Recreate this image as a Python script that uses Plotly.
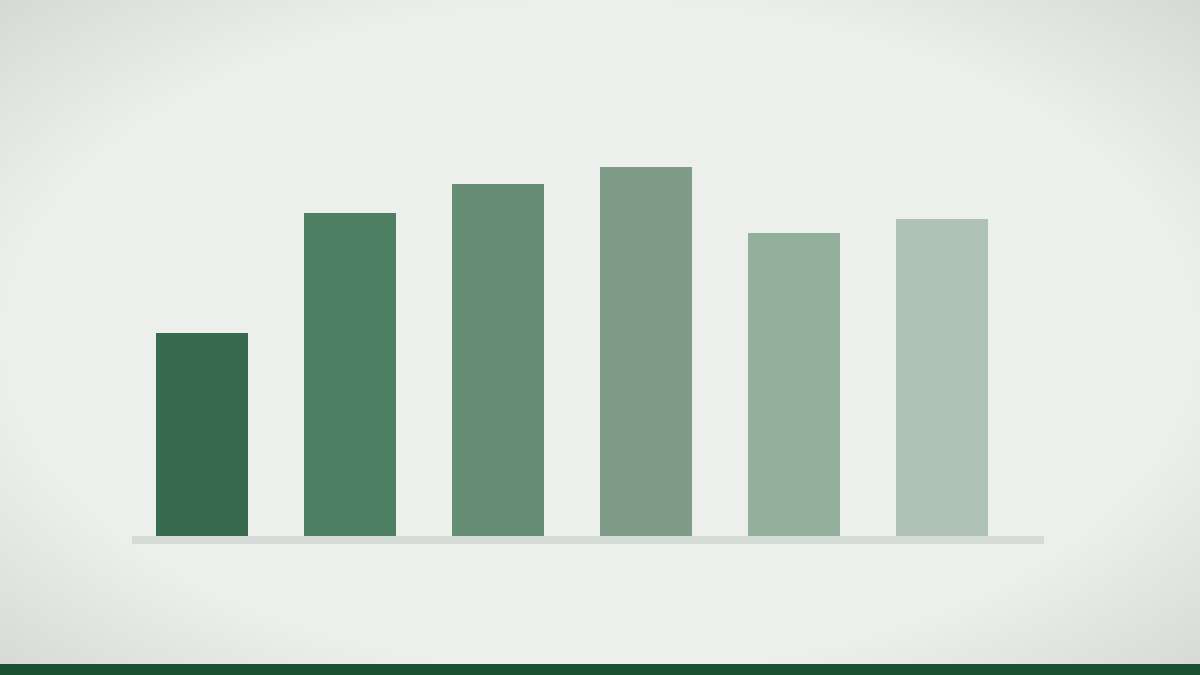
import base64
import plotly.graph_objects as go

# six unlabeled bars (tallest = 100)
categories = ["A", "B", "C", "D", "E", "F"]
values = [55, 87.5, 95.4, 100, 82.1, 85.9]
bar_colors = ["#386b4d", "#4f7f63", "#668e75", "#7f9c89", "#93b09d", "#aec1b4"]

W, H = 1200, 675
BG = "#edefec"

# soft vignette behind everything (radial gradient as an svg image)
svg = f"""<svg xmlns='http://www.w3.org/2000/svg' width='{W}' height='{H}' viewBox='0 0 {W} {H}' preserveAspectRatio='none'>
<defs><radialGradient id='g' cx='50%' cy='50%' r='75%'>
<stop offset='0%' stop-color='{BG}'/><stop offset='66%' stop-color='{BG}'/>
<stop offset='100%' stop-color='#d2d4d1'/></radialGradient></defs>
<rect width='{W}' height='{H}' fill='url(#g)'/></svg>"""
vignette = "data:image/svg+xml;base64," + base64.b64encode(svg.encode()).decode()

fig = go.Figure(go.Bar(
    x=list(range(len(categories))),
    y=values,
    width=0.6216,
    marker=dict(color=bar_colors, line=dict(width=0)),
    hovertext=categories,
    showlegend=False,
))

# plot area: x 132..1044, y 100..536
left, right, top, bottom = 132, W - 1044, 100, H - 536
plot_w = W - left - right
plot_h = H - top - bottom

fig.update_layout(
    width=W, height=H,
    margin=dict(l=left, r=right, t=top, b=bottom, pad=0),
    paper_bgcolor=BG,
    plot_bgcolor="rgba(0,0,0,0)",
    xaxis=dict(range=[-70 / 148, 5 + 102 / 148], visible=False, fixedrange=True),
    yaxis=dict(range=[0, 100 * plot_h / 369], visible=False, fixedrange=True),
    images=[dict(source=vignette, xref="paper", yref="paper",
                 x=-left / plot_w, y=1 + top / plot_h,
                 sizex=W / plot_w, sizey=H / plot_h,
                 xanchor="left", yanchor="top", sizing="stretch", layer="below")],
    shapes=[
        # baseline strip under the bars
        dict(type="rect", xref="paper", yref="paper", x0=0, x1=1,
             y0=-8 / plot_h, y1=0, fillcolor="#d5dcd7", line=dict(width=0), layer="below"),
        # dark green band along the bottom edge
        dict(type="rect", xref="paper", yref="paper", x0=-left / plot_w,
             x1=1 + right / plot_w, y0=-bottom / plot_h, y1=-(bottom - 11) / plot_h,
             fillcolor="#1a5232", line=dict(width=0)),
    ],
)

fig.write_html("out.html", config={"displayModeBar": False},
               post_script="document.body.style.margin='0';document.body.style.overflow='hidden';")
